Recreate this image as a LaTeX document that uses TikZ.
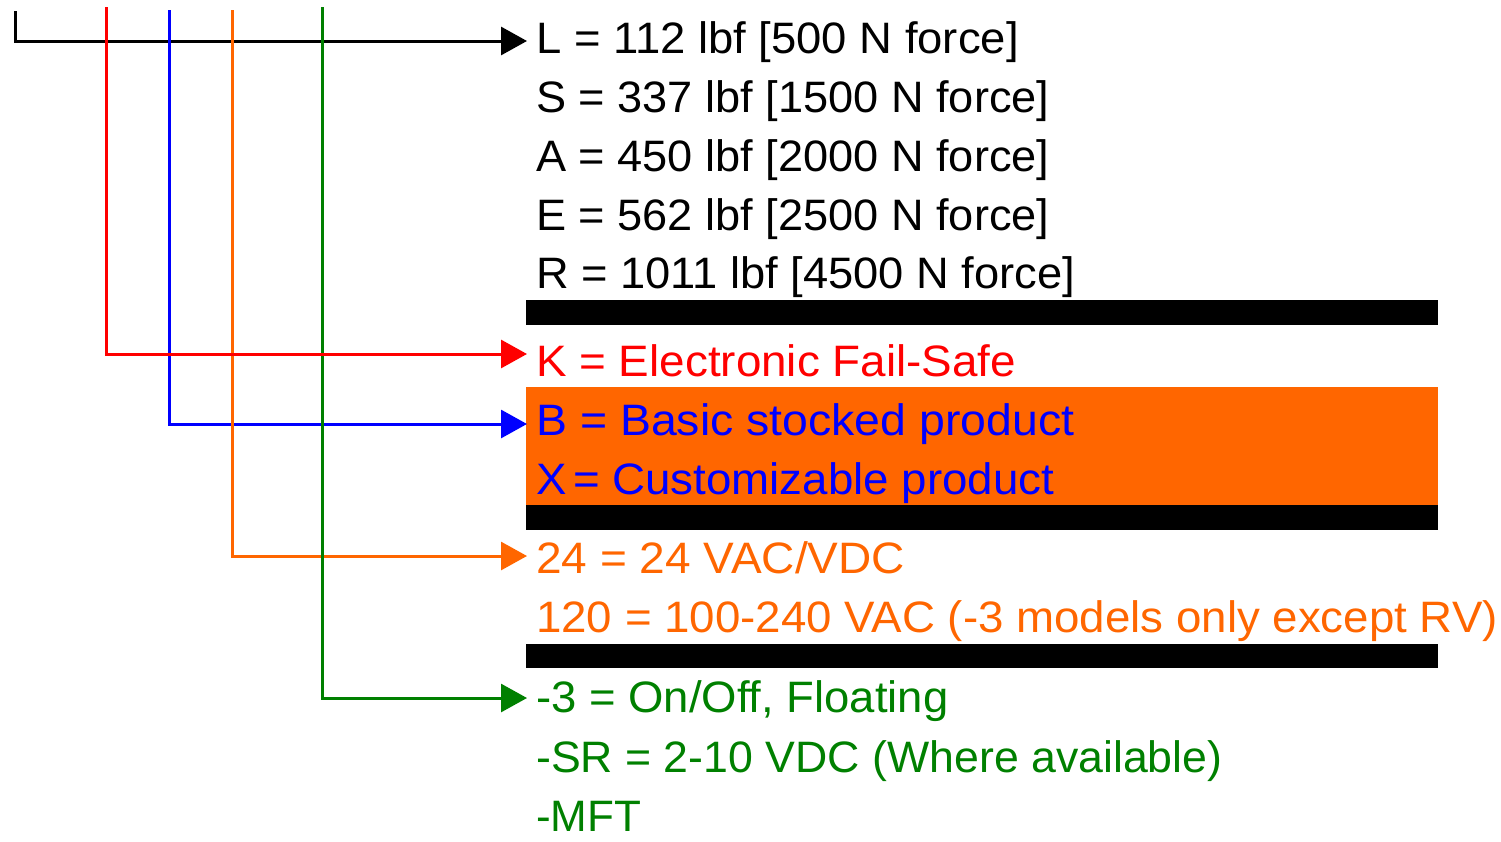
\documentclass[tikz,border=0pt]{standalone}
\usepackage{fontspec}
\setmainfont{Liberation Sans}
\usetikzlibrary{arrows.meta}
\definecolor{cred}{RGB}{255,0,0}
\definecolor{cblue}{RGB}{0,0,255}
\definecolor{corange}{RGB}{255,102,0}
\definecolor{cgreen}{RGB}{0,128,0}
\newcommand{\stretchtxt}[2]{\scalebox{#1}[1]{#2}}
\tikzset{
  conn/.style={line width=3pt, -{Triangle[length=26pt,width=28pt]}},
  lbl/.style={anchor=base west, inner sep=0pt, font=\fontsize{44}{53}\selectfont},
}
\begin{document}
\begin{tikzpicture}[x=1pt,y=-1pt]
\useasboundingbox (0,0) rectangle (1501,841);
% bands
\fill[corange] (526,387) rectangle (1438,505);
\fill[black] (526,300) rectangle (1438,325);
\fill[black] (526,505) rectangle (1438,530);
\fill[black] (526,644) rectangle (1438,668);
% texts
\node[lbl] (tL) at (536,53.5) {\stretchtxt{1.032}{L = 112 lbf [500 N force]}};
\node[lbl] (tS) at (536,112.2) {\stretchtxt{1.026}{S = 337 lbf [1500 N force]}};
\node[lbl] (tA) at (536,171) {\stretchtxt{1.026}{A = 450 lbf [2000 N force]}};
\node[lbl] (tE) at (536,230) {\stretchtxt{1.026}{E = 562 lbf [2500 N force]}};
\node[lbl] (tR) at (536,288.5) {\stretchtxt{1.029}{R = 1011 lbf [4500 N force]}};
\node[lbl, text=cred] (tK) at (536,376) {\stretchtxt{1.041}{K = Electronic Fail-Safe}};
\node[lbl, text=cblue] (tB) at (536,435) {\stretchtxt{1.055}{B = Basic stocked product}};
\node[lbl, text=cblue] (tX) at (536,494) {\stretchtxt{1.038}{X\kern-6pt{} = Customizable product}};
\node[lbl, text=corange] (t24) at (536,573) {\stretchtxt{1.046}{24 = 24 VAC/VDC}};
\node[lbl, text=corange] (t120) at (536,632) {\stretchtxt{1.038}{120 = 100-240 VAC (-3 models only except RV)}};
\node[lbl, text=cgreen] (t3) at (536,712) {\stretchtxt{1.033}{-3 = On/Off, Floating}};
\node[lbl, text=cgreen] (tSR) at (536,772) {\stretchtxt{1.015}{-SR = 2-10 VDC (Where available)}};
\node[lbl, text=cgreen] (tMFT) at (536,831) {-MFT};
% connector ends
\coordinate (sL) at (15,11);
\coordinate (sK) at (106,7);
\coordinate (sB) at (169,10);
\coordinate (s24) at (232,10);
\coordinate (s3) at (322,7);
\coordinate (eL) at (527,41);
\coordinate (eK) at (527,354);
\coordinate (eB) at (527,424);
\coordinate (e24) at (527,556);
\coordinate (e3) at (527,698);
% connectors
\draw[conn, black] (sL) |- (eL);
\draw[conn, cblue] (sB) |- (eB);
\draw[conn, corange] (s24) |- (e24);
\draw[conn, cgreen] (s3) |- (e3);
\draw[conn, cred] (sK) |- (eK);
\end{tikzpicture}
\end{document}
